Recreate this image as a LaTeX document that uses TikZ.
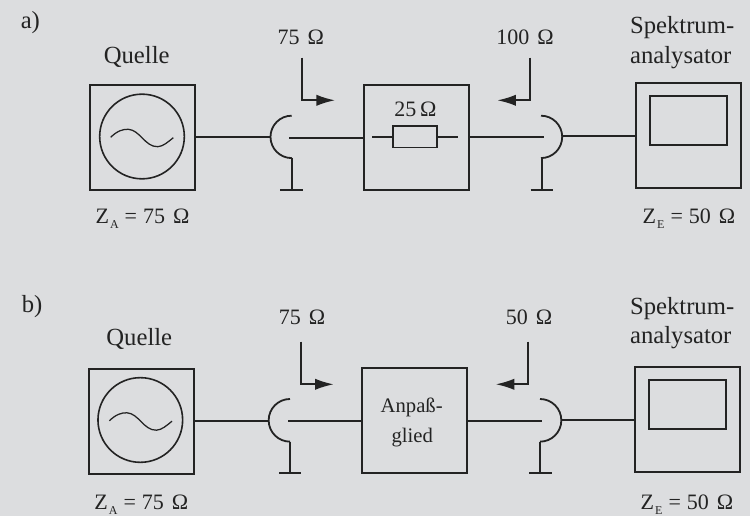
\documentclass[tikz,border=0pt]{standalone}
\usepackage{fontspec}
\setmainfont{Liberation Serif}
\usetikzlibrary{arrows.meta}
\definecolor{bgc}{HTML}{DCDDDF}
\definecolor{ink}{HTML}{232323}
\newcommand{\ZZ}[3]{#1\hspace{0.8pt}\raisebox{-3.5pt}{\fontsize{9}{9}\selectfont #2}\hspace{4.5pt}=\hspace{4.5pt}#3\hspace{6pt}Ω}
\tikzset{
  x=0.75pt,y=-0.75pt,
  ln/.style={draw=ink,line width=1.35pt},
  thin ln/.style={draw=ink,line width=0.95pt},
  boxn/.style={rectangle,draw=ink,line width=1.35pt,inner sep=0pt,minimum width=78.75pt,minimum height=78.75pt},
  inbox/.style={rectangle,draw=ink,line width=1.35pt,inner sep=0pt},
  lbl/.style={inner sep=0pt,text=ink,anchor=base,font=\fontsize{16.5}{18}\selectfont},
  midl/.style={inner sep=0pt,text=ink,anchor=base,font=\fontsize{15.5}{18}\selectfont},
  bigl/.style={inner sep=0pt,text=ink,anchor=base,font=\fontsize{18.5}{22}\selectfont},
  bigw/.style={bigl,anchor=base west},
  arr/.style={ln,-{Latex[length=14pt,width=8.5pt]}},
}
\begin{document}
\begin{tikzpicture}
\fill[bgc] (0,0) rectangle (750,516);
\useasboundingbox (0,0) rectangle (750,516);
% ---------- a)
\node[bigw] (la) at (20.5,28.3) {a)};
\node[bigl] (qa) at (136.7,63.3) {Quelle};
\node[bigw] (spa) at (629.8,33.3) {Spektrum-};
\node[bigw] (ana) at (629.8,63.3) {analysator};
\node[boxn] (srca) at (142.5,137.5) {};
\node[circle,draw=ink,line width=1.2pt,minimum size=63.5pt,inner sep=0pt] (ca) at (142,136.5) {};
\draw[thin ln] (110.7,137.3) .. controls (117,131) and (123,129) .. (128.3,129.3) .. controls (140,130) and (145,147) .. (157.7,146.7) .. controls (163,146.5) and (168,142) .. (173.3,137.7);
\node[lbl] (z1) at (142.5,224) {\ZZ{Z}{A}{75}};
\coordinate (cla) at (270,137);
\coordinate (cta) at (291.7,115.7);
\coordinate (cba) at (291.7,157.7);
\coordinate (gna) at (291.7,190);
\coordinate (ila) at (289.3,138);
\draw[ln] (srca.east |- cla) -- (cla);
\draw[ln] (cta) arc[start angle=90,end angle=270,radius=15.9pt];
\draw[ln] (cba) -- (gna);
\draw[ln] (280,190) -- (302.7,190);
\node[boxn] (mida) at (416.5,137.5) {};
\draw[ln] (ila) -- (ila -| mida.west);
\node[lbl] (r1) at (415.5,116.7) {25\hspace{2.8pt}Ω};
\node[inbox,minimum width=32.5pt,minimum height=16.2pt] (ra) at (415,136.8) {};
\coordinate (rla) at (372.3,137);
\coordinate (rra) at (457.7,137);
\draw[ln] (rla) -- (ra.west |- rla);
\draw[ln] (ra.east |- rra) -- (rra);
\coordinate (a1s) at (302,57.7);
\coordinate (a1c) at (302,100.3);
\coordinate (a1e) at (335,100.3);
\draw[arr] (a1s) -- (a1c) -- (a1e);
\node[lbl] (t75a) at (300.7,45) {75\hspace{6pt}Ω};
\coordinate (a2s) at (529.7,57.7);
\coordinate (a2c) at (529.7,100.3);
\coordinate (a2e) at (497.3,100.3);
\draw[arr] (a2s) -- (a2c) -- (a2e);
\node[lbl] (t100a) at (525,45) {100\hspace{6pt}Ω};
\coordinate (cra) at (563,136);
\coordinate (cta2) at (541,115.7);
\coordinate (cba2) at (541.7,157.7);
\coordinate (gna2) at (541.7,190);
\coordinate (ira) at (543.7,137);
\draw[ln] (mida.east |- ira) -- (ira);
\draw[ln] (cta2) arc[start angle=90,end angle=-90,radius=15.9pt];
\draw[ln] (cba2) -- (gna2);
\draw[ln] (530.7,190) -- (552.7,190);
\node[boxn] (spaa) at (688.5,135.5) {};
\node[inbox,minimum width=57.5pt,minimum height=36.5pt] (scra) at (688.7,120.7) {};
\draw[ln] (cra) -- (cra -| spaa.west);
\node[lbl] (z2) at (689,224) {\ZZ{Z}{E}{50}};
% ---------- b)
\node[bigw] (lb) at (21.5,312.7) {b)};
\node[bigl] (qb) at (139.3,345.7) {Quelle};
\node[bigw] (spb) at (629.8,315) {Spektrum-};
\node[bigw] (anb) at (629.8,344) {analysator};
\node[boxn] (srcb) at (141.5,421.5) {};
\node[circle,draw=ink,line width=1.2pt,minimum size=63.5pt,inner sep=0pt] (cb) at (140.3,420) {};
\draw[thin ln] (109.4,420.8) .. controls (115.7,414.5) and (121.7,412.5) .. (127,412.8) .. controls (138.7,413.5) and (143.7,430.5) .. (156.4,430.2) .. controls (161.7,430) and (166.7,425.5) .. (172,421.2);
\node[lbl] (z3) at (141.3,510) {\ZZ{Z}{A}{75}};
\coordinate (clb) at (268.7,421);
\coordinate (ctb) at (290,399);
\coordinate (cbb) at (290,441.7);
\coordinate (gnb) at (290,473);
\coordinate (ilb) at (288,421);
\draw[ln] (srcb.east |- clb) -- (clb);
\draw[ln] (ctb) arc[start angle=90,end angle=270,radius=16pt];
\draw[ln] (cbb) -- (gnb);
\draw[ln] (279,473) -- (301,473);
\node[boxn] (midb) at (414.5,420.5) {};
\draw[ln] (ilb) -- (ilb -| midb.west);
\node[midl] (ap1) at (411.7,412.7) {Anpaß-};
\node[midl] (ap2) at (412.3,442.7) {glied};
\coordinate (b1s) at (301,341.7);
\coordinate (b1c) at (301,384.3);
\coordinate (b1e) at (333.7,384.3);
\draw[arr] (b1s) -- (b1c) -- (b1e);
\node[lbl] (t75b) at (302,325) {75\hspace{6pt}Ω};
\coordinate (b2s) at (528.3,341.7);
\coordinate (b2c) at (528.3,384.3);
\coordinate (b2e) at (495.7,384.3);
\draw[arr] (b2s) -- (b2c) -- (b2e);
\node[lbl] (t50b) at (529,325) {50\hspace{6pt}Ω};
\coordinate (crb) at (562.3,420);
\coordinate (ctb2) at (540,399);
\coordinate (cbb2) at (540.3,441.7);
\coordinate (gnb2) at (540.3,473);
\coordinate (irb) at (542.3,421);
\draw[ln] (midb.east |- irb) -- (irb);
\draw[ln] (ctb2) arc[start angle=90,end angle=-90,radius=16pt];
\draw[ln] (cbb2) -- (gnb2);
\draw[ln] (529.3,473) -- (551.7,473);
\node[boxn] (spab) at (687.5,419.5) {};
\node[inbox,minimum width=57.5pt,minimum height=36.5pt] (scrb) at (687.4,404.3) {};
\draw[ln] (crb) -- (crb -| spab.west);
\node[lbl] (z4) at (687,510) {\ZZ{Z}{E}{50}};
\end{tikzpicture}
\end{document}
